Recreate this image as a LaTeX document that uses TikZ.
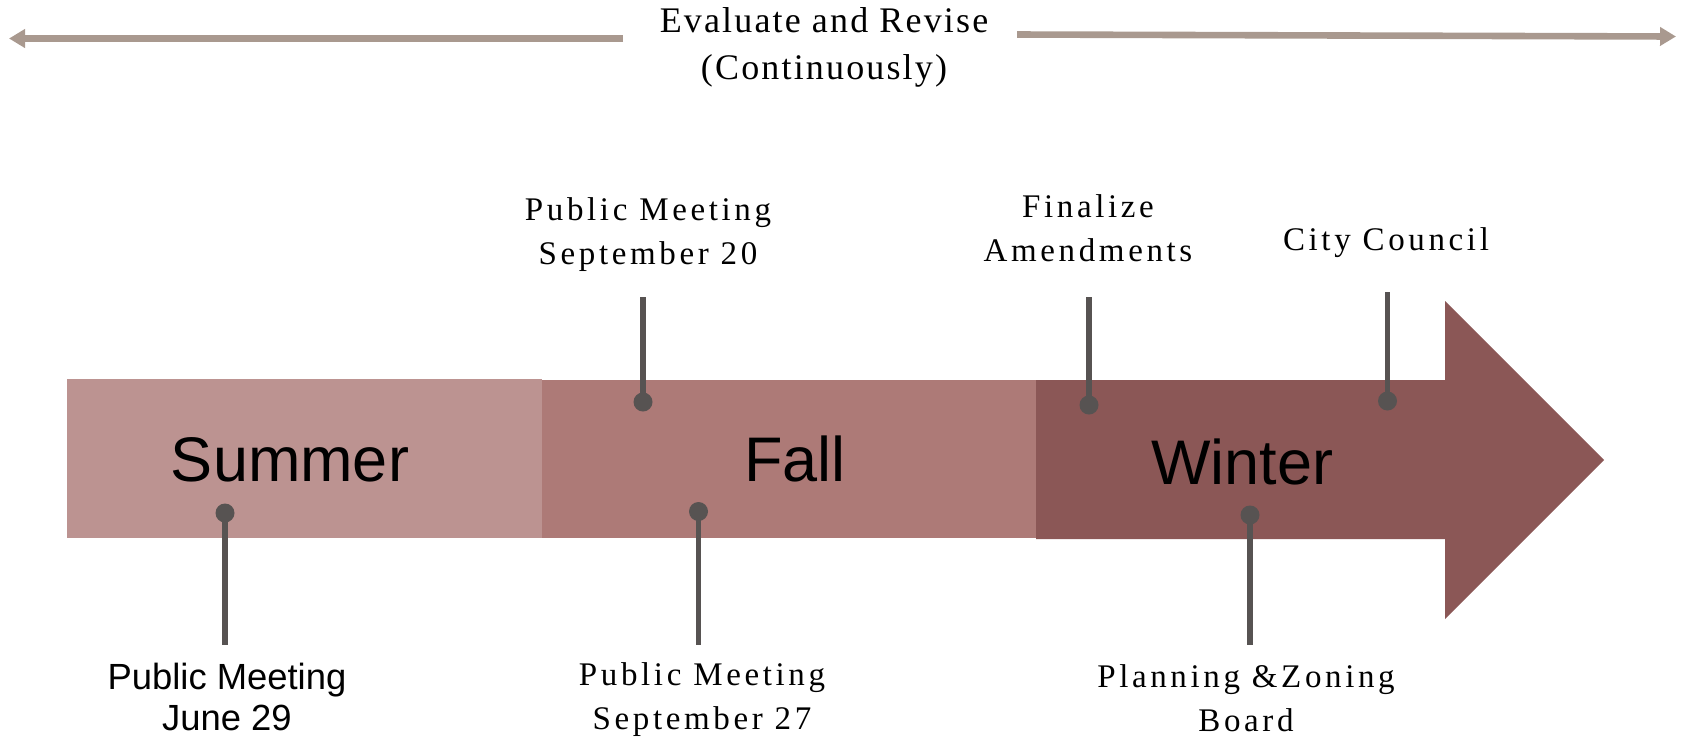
\documentclass[tikz,border=0pt]{standalone}
\usepackage{fontspec}
\setmainfont{Liberation Serif}
\newfontfamily\arialfont{Liberation Sans}
\newfontfamily\spacedfont[LetterSpace=11]{Liberation Serif}
\newfontfamily\evalfont[LetterSpace=6]{Liberation Serif}
\usetikzlibrary{arrows.meta,positioning}
\definecolor{summerc}{HTML}{BC9391}
\definecolor{fallc}{HTML}{AD7A77}
\definecolor{winterc}{HTML}{8B5756}
\definecolor{pinc}{HTML}{575352}
\definecolor{evalc}{HTML}{A9998F}

\begin{document}
\begin{tikzpicture}[x=0.5pt,y=-0.5pt]
\tikzstyle{season} = [font=\arialfont\fontsize{31.5}{36}\selectfont, inner sep=0pt]
\tikzstyle{pindot} = [circle, fill=pinc, minimum size=9.5pt, inner sep=0pt]
\tikzstyle{pinline} = [draw=pinc, line width=2.6pt]
\tikzstyle{milestone} = [font=\spacedfont\fontsize{16.5}{22}\selectfont, align=center, inner sep=0pt]
\tikzstyle{sanslabel} = [font=\arialfont\fontsize{18.2}{20.5}\selectfont, align=center, inner sep=0pt]
\tikzstyle{evalarrow} = [draw=evalc, line width=3.3pt, -{Triangle[length=8pt,width=9pt]}]

\useasboundingbox (0,0) rectangle (1685,741);

\node[font=\evalfont\fontsize{18}{23.5}\selectfont, align=center, inner sep=0pt] (eval) at (824,47) {Evaluate and Revise\\(Continuously)};
\coordinate (evalL0) at (623,38.5);
\coordinate (evalL1) at (9,38.5);
\coordinate (evalR0) at (1017,34.5);
\coordinate (evalR1) at (1676,36.5);
\draw[evalarrow] (evalL0) -- (evalL1);
\draw[evalarrow] (evalR0) -- (evalR1);

\fill[summerc] (67,379) rectangle (542,538);
\fill[fallc] (542,380) rectangle (1036,538);
\fill[winterc] (1036,380) -- (1445,380) -- (1445,301) -- (1604,460)
  -- (1445,619) -- (1445,539) -- (1036,539) -- cycle;

\node[season] (summer) at (290,460) {Summer};
\node[season] (fall) at (795,459) {Fall};
\node[season] (winter) at (1242,462) {Winter};

\node[pindot] (d1) at (225,513) {};
\node[pindot] (d2) at (643,402) {};
\node[pindot] (d3) at (698.5,511.5) {};
\node[pindot] (d4) at (1089,405) {};
\node[pindot] (d5) at (1387.5,401) {};
\node[pindot] (d6) at (1250,515) {};
\coordinate (e1) at (225,645);
\coordinate (e2) at (643,297);
\coordinate (e3) at (698.5,645);
\coordinate (e4) at (1089,297);
\coordinate (e5) at (1387.5,292);
\coordinate (e6) at (1250,645);
\draw[pinline] (d1.center) -- (e1);
\draw[pinline] (d2.center) -- (e2);
\draw[pinline] (d3.center) -- (e3);
\draw[pinline] (d4.center) -- (e4);
\draw[pinline] (d5.center) -- (e5);
\draw[pinline] (d6.center) -- (e6);

\node[sanslabel] (t1) at (227,697) {Public Meeting\\June 29};
\node[milestone] (t2) at (648,235) {Public Meeting\\September 20};
\node[milestone] (t3) at (702,700) {Public Meeting\\September 27};
\node[milestone] (t4) at (1088,228) {Finalize\\Amendments};
\node[milestone] (t5) at (1386,243) {City Council};
\node[milestone] (t6) at (1246,698) {Planning \&Zoning\\Board};
\end{tikzpicture}
\end{document}
